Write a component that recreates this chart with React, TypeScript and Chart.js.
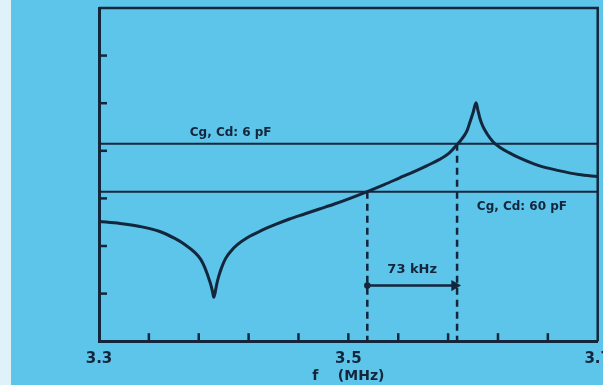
import React, { useEffect, useRef } from "react";
import { Chart, registerables } from "chart.js";

Chart.register(...registerables);

// Frequency (MHz) and relative response (arbitrary units, 0..7)
const freqMHz = [
  3.3, 3.3168, 3.3328, 3.3488, 3.3608, 3.3688, 3.3768, 3.3816, 3.3848, 3.3872,
  3.3896, 3.3912, 3.392, 3.3932, 3.3944, 3.396, 3.3984, 3.4016, 3.4056, 3.4112,
  3.4192, 3.4304, 3.4416, 3.4528, 3.4648, 3.4768, 3.4888, 3.5008, 3.5152, 3.5288,
  3.5408, 3.5528, 3.5632, 3.5728, 3.5808, 3.5872, 3.5912, 3.5952, 3.5976, 3.6,
  3.6024, 3.604, 3.6056, 3.608, 3.6112, 3.616, 3.6208, 3.6288, 3.6368, 3.6528,
  3.6688, 3.6848, 3.7,
];
const response = [
  2.515, 2.473, 2.41, 2.305, 2.159, 2.033, 1.865, 1.719, 1.551, 1.383,
  1.195, 1.027, 0.922, 1.027, 1.195, 1.362, 1.551, 1.74, 1.886, 2.033,
  2.18, 2.326, 2.452, 2.567, 2.672, 2.777, 2.882, 2.997, 3.144, 3.29,
  3.427, 3.563, 3.689, 3.814, 3.951, 4.129, 4.255, 4.422, 4.611, 4.799,
  5.009, 4.841, 4.674, 4.506, 4.359, 4.192, 4.087, 3.961, 3.856, 3.689,
  3.584, 3.5, 3.458,
];

// Reference levels
const level6pF = 4.15;
const level60pF = 3.14;
const levelLabels = ["Cg, Cd: 6 pF", "Cg, Cd: 60 pF"];

// Crossing frequencies (MHz) and bandwidth annotation
const crossLow = 3.5152;
const crossHigh = 3.5872;
const bandwidthLabel = "73 kHz";
const arrowLevel = 1.17;

// Axes
const xMin = 3.3;
const xMax = 3.7;
const xStep = 0.04;
const xTickLabels = ["3.3", "3.5", "3.7"];
const yMin = 0;
const yMax = 7;
const xTitle = "f    (MHz)";

const INK = "#13263b";
const BG = "#5dc4ea";
const FONT = "'DejaVu Sans', Verdana, sans-serif";

export default function App() {
  const ref = useRef<HTMLCanvasElement | null>(null);

  useEffect(() => {
    document.body.style.margin = "0";
    document.body.style.overflow = "hidden";
    const canvas = ref.current;
    if (!canvas) return;

    const bgPlugin = {
      id: "bg",
      beforeDraw(chart: any) {
        const { ctx, width, height } = chart;
        ctx.save();
        ctx.fillStyle = BG;
        ctx.fillRect(0, 0, width, height);
        ctx.fillStyle = "#dff2f9";
        ctx.fillRect(0, 0, 11, height);
        ctx.restore();
      },
    };

    const decoPlugin = {
      id: "deco",
      afterDraw(chart: any) {
        const { ctx, chartArea } = chart;
        const xs = chart.scales.x;
        const ys = chart.scales.y;
        ctx.save();
        ctx.strokeStyle = INK;
        ctx.lineWidth = 2.5;
        // top and right frame
        ctx.beginPath();
        ctx.moveTo(chartArea.left, chartArea.top);
        ctx.lineTo(chartArea.right, chartArea.top);
        ctx.lineTo(chartArea.right, chartArea.bottom);
        ctx.stroke();
        // inward ticks on x
        xs.ticks.forEach((t: any) => {
          if (t.value <= xMin + 1e-6 || t.value >= xMax - 1e-6) return;
          const px = xs.getPixelForValue(t.value);
          ctx.beginPath();
          ctx.moveTo(px, chartArea.bottom);
          ctx.lineTo(px, chartArea.bottom - 8);
          ctx.stroke();
        });
        // inward ticks on y
        ys.ticks.forEach((t: any) => {
          if (t.value <= yMin || t.value >= yMax) return;
          const py = ys.getPixelForValue(t.value);
          ctx.beginPath();
          ctx.moveTo(chartArea.left, py);
          ctx.lineTo(chartArea.left + 8, py);
          ctx.stroke();
        });
        // annotations
        ctx.fillStyle = INK;
        ctx.textAlign = "center";
        ctx.textBaseline = "middle";
        ctx.font = `bold 12px ${FONT}`;
        ctx.fillText(levelLabels[0], xs.getPixelForValue(3.4056), ys.getPixelForValue(4.38));
        ctx.fillText(levelLabels[1], xs.getPixelForValue(3.6392), ys.getPixelForValue(2.83));
        ctx.font = `bold 13px ${FONT}`;
        ctx.fillText(bandwidthLabel, xs.getPixelForValue((crossLow + crossHigh) / 2), ys.getPixelForValue(1.51));
        ctx.restore();
      },
    };

    const chart = new Chart(canvas, {
      type: "line",
      data: {
        datasets: [
          {
            data: freqMHz.map((f, i) => ({ x: f, y: response[i] })),
            borderColor: INK,
            borderWidth: 3,
            pointRadius: 0,
            cubicInterpolationMode: "monotone",
            fill: false,
          },
          {
            data: [{ x: xMin, y: level6pF }, { x: xMax, y: level6pF }],
            borderColor: INK,
            borderWidth: 2,
            pointRadius: 0,
          },
          {
            data: [{ x: xMin, y: level60pF }, { x: xMax, y: level60pF }],
            borderColor: INK,
            borderWidth: 2,
            pointRadius: 0,
          },
          {
            data: [{ x: crossLow, y: level60pF }, { x: crossLow, y: yMin }],
            borderColor: INK,
            borderWidth: 2.5,
            borderDash: [7, 5],
            pointRadius: 0,
          },
          {
            data: [{ x: crossHigh, y: level6pF }, { x: crossHigh, y: yMin }],
            borderColor: INK,
            borderWidth: 2.5,
            borderDash: [7, 5],
            pointRadius: 0,
          },
          {
            data: [{ x: crossLow, y: arrowLevel }, { x: crossHigh - 0.002, y: arrowLevel }],
            borderColor: INK,
            backgroundColor: INK,
            borderWidth: 2.5,
            pointRadius: [2, 4],
            pointStyle: ["circle", "triangle"],
            rotation: [0, 90],
          },
        ],
      },
      options: {
        responsive: false,
        animation: false,
        events: [],
        layout: { autoPadding: false, padding: { left: 99, right: 4, top: 8, bottom: 0 } },
        plugins: { legend: { display: false }, tooltip: { enabled: false } },
        scales: {
          x: {
            type: "linear",
            min: xMin,
            max: xMax,
            grid: { display: false, drawTicks: false },
            border: { display: true, color: INK, width: 3 },
            ticks: {
              stepSize: xStep,
              autoSkip: false,
              maxRotation: 0,
              padding: 9,
              color: INK,
              font: { size: 15, weight: "bold", family: FONT },
              callback: (v: any) => {
                const s = Number(v).toFixed(1);
                const exact = Math.abs(Number(v) * 10 - Math.round(Number(v) * 10)) < 1e-6;
                return exact && xTickLabels.includes(s) ? s : "";
              },
            },
            title: {
              display: true,
              text: xTitle,
              color: INK,
              padding: { top: -9, bottom: 0 },
              font: { size: 14, weight: "bold", family: FONT },
            },
          },
          y: {
            min: yMin,
            max: yMax,
            grid: { display: false, drawTicks: false },
            border: { display: true, color: INK, width: 3 },
            ticks: { display: false, stepSize: 1 },
          },
        },
      },
      plugins: [bgPlugin, decoPlugin],
    });
    return () => chart.destroy();
  }, []);

  return <canvas ref={ref} width={620} height={385} style={{ display: "block" }} />;
}
